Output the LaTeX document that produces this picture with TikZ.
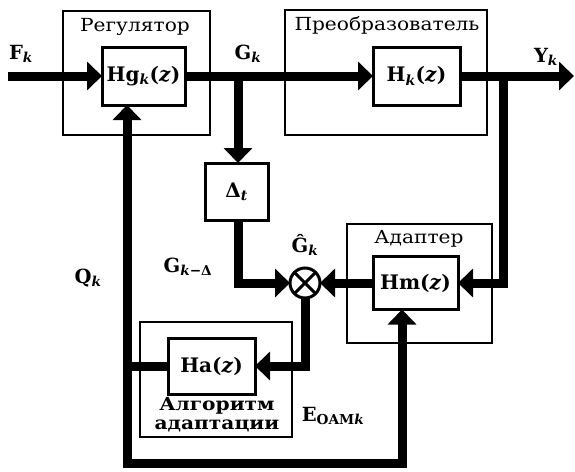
\documentclass[tikz,border=0pt]{standalone}
\usepackage{fontspec}
\setmainfont{DejaVu Serif}
\newfontfamily\widefont[FakeStretch=1.12]{DejaVu Serif}
\usetikzlibrary{arrows.meta}
\begin{document}
\begin{tikzpicture}[x=1pt,y=-1pt,line join=miter,
  sig/.style={line width=9pt},
  arr/.style={line width=9pt,-{Triangle[width=28pt,length=15pt]}},
  outerbox/.style={draw,line width=2.2pt,inner sep=0,outer sep=0},
  innerbox/.style={draw,line width=3pt,fill=white,inner sep=0,outer sep=0,font=\bfseries\fontsize{20}{22}\selectfont},
  lbl/.style={font=\bfseries\fontsize{19.5}{21}\selectfont,inner sep=0},
  ttl/.style={font=\widefont\fontsize{18}{20}\selectfont,inner sep=0},
  sumc/.style={circle,draw,line width=3pt,fill=white,minimum size=30pt,inner sep=0,outer sep=0}]
\useasboundingbox (0,0) rectangle (575,471);
% outer frames
\node[outerbox,minimum width=147pt,minimum height=124pt] (reg) at (136.5,73) {};
\node[outerbox,minimum width=202pt,minimum height=125pt] (pre) at (386,72.5) {};
\node[outerbox,minimum width=145pt,minimum height=119pt] (adp) at (419.5,283.5) {};
\node[outerbox,minimum width=152pt,minimum height=115pt] (alg) at (216,379.5) {};
\node[ttl] (tReg) at (135,27) {Регулятор};
\node[ttl] (tPre) at (387,25) {Преобразователь};
\node[ttl] (tAdp) at (419,239) {Адаптер};
\node[ttl,font=\widefont\bfseries\fontsize{18}{19}\selectfont,align=center] (tAlg) at (217,415) {Алгоритм\\адаптации};
% inner blocks
\node[innerbox,minimum width=83pt,minimum height=58pt] (hg) at (143.5,76) {Hg\textsubscript{\textit{k}}(\textit{z})};
\node[innerbox,minimum width=87pt,minimum height=58pt] (hk) at (416.5,76) {H\textsubscript{\textit{k}}(\textit{z})};
\node[innerbox,minimum width=63pt,minimum height=57pt] (dl) at (236.5,191.5) {Δ\textsubscript{\textit{t}}};
\node[innerbox,minimum width=85pt,minimum height=53pt] (hm) at (415.5,283) {Hm(\textit{z})};
\node[innerbox,minimum width=87pt,minimum height=56pt] (ha) at (211.5,366) {Ha(\textit{z})};
\node[sumc] (sum) at (305,283) {};
\draw[line width=3pt] (sum.north west) -- (sum.south east) (sum.north east) -- (sum.south west);
% coordinates
\coordinate (in) at (8,76);
\coordinate (out) at (574,76);
\coordinate (gs) at (238,76);
\coordinate (ys) at (503,76);
\coordinate (bl) at (127,463);
\coordinate (br) at (402,463);
% connectors
\draw[arr] (in) -- (hg.west);
\draw[arr] (hg.east) -- (hk.west);
\draw[arr] (hk.east) -- (out);
\draw[arr] (gs) -- (gs|-dl.north);
\draw[arr] (dl.south-|gs) |- (sum.west);
\draw[arr] (ys) |- (hm.east);
\draw[arr] (hm.west) -- (sum.east);
\draw[arr] (sum.south) |- (ha.east);
\draw[sig] (ha.west) -- (bl|-ha.west);
\draw[line width=9pt,{Triangle[width=28pt,length=15pt]}-{Triangle[width=28pt,length=15pt]}] (bl|-hg.south) -- (bl) -- (br) -- (br|-hm.south);
% labels
\node[lbl] (lF) at (21,54) {F\textsubscript{\textit{k}}};
\node[lbl] (lG) at (248,54) {G\textsubscript{\textit{k}}};
\node[lbl] (lY) at (546,57) {Y\textsubscript{\textit{k}}};
\node[lbl] (lGh) at (305,245) {Ĝ\textsubscript{\textit{k}}};
\node[lbl] (lGd) at (188,267) {G\textsubscript{\textit{k}−Δ}};
\node[lbl] (lQ) at (88,278) {Q\textsubscript{\textit{k}}};
\node[lbl] (lE) at (333,416) {E\textsubscript{OAM\textit{k}}};
\end{tikzpicture}
\end{document}
